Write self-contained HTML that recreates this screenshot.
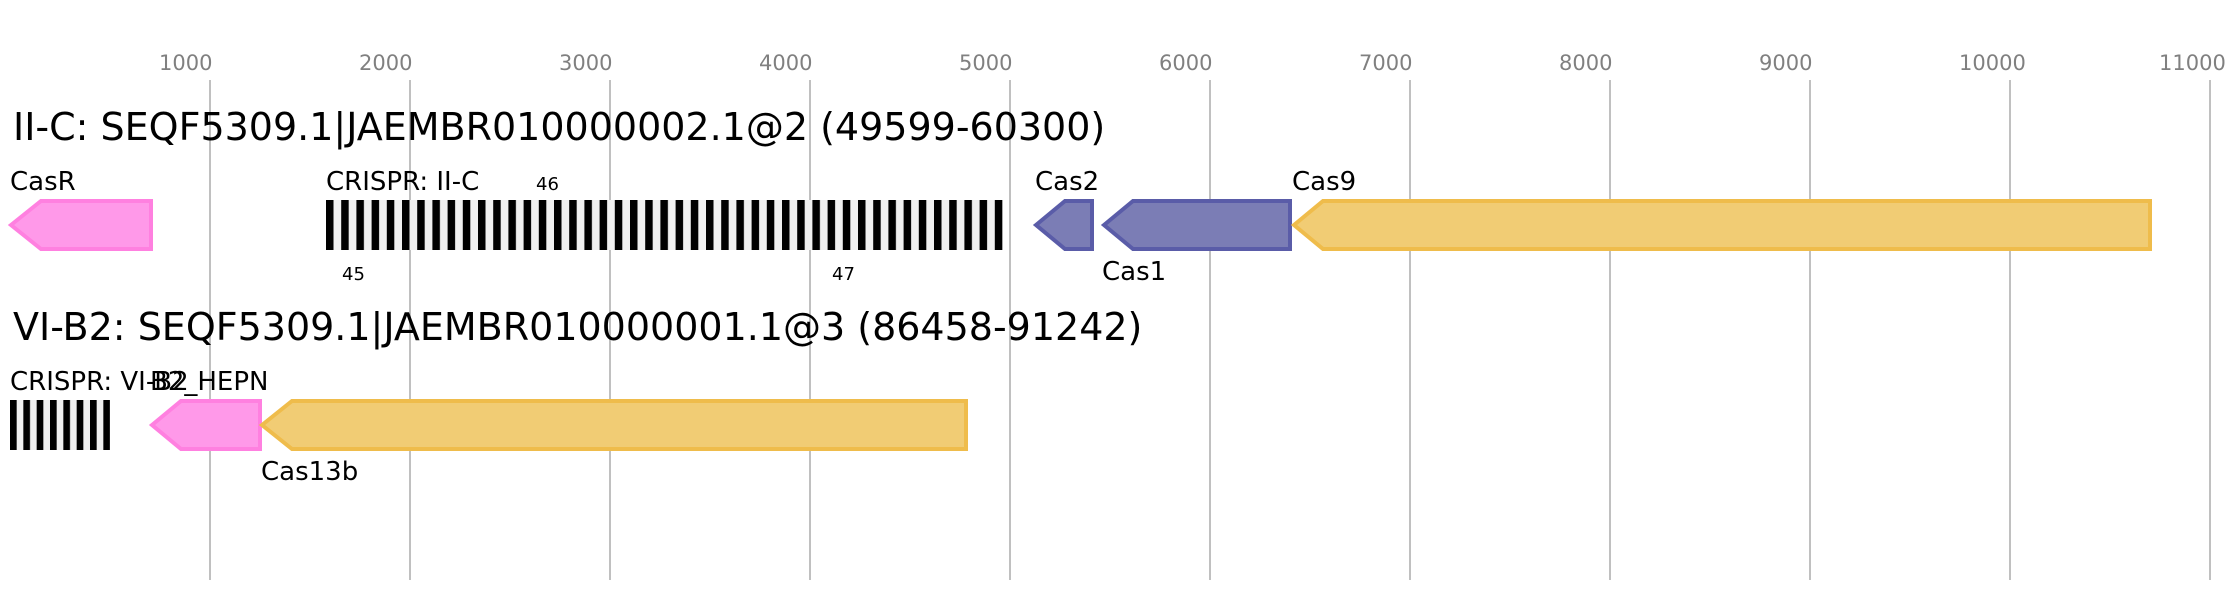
<!DOCTYPE html>
<html>
<head>
<meta charset="utf-8">
<style>
html,body{margin:0;padding:0;background:#ffffff;}
svg{display:block;}
text{font-family:"DejaVu Sans","Liberation Sans",sans-serif;}
</style>
</head>
<body>
<svg width="2240" height="600" viewBox="0 0 2240 600" xmlns="http://www.w3.org/2000/svg">
<defs>
<pattern id="crA" patternUnits="userSpaceOnUse" x="326" y="200" width="15.2" height="50">
<rect x="0" y="0" width="15.2" height="50" fill="#f0f0f0"/>
<rect x="0" y="0" width="7.5" height="50" fill="#000"/>
</pattern>
<pattern id="crB" patternUnits="userSpaceOnUse" x="10" y="400" width="13.333" height="50">
<rect x="0" y="0" width="13.333" height="50" fill="#f0f0f0"/>
<rect x="0" y="0" width="6.67" height="50" fill="#000"/>
</pattern>
</defs>
<rect x="0" y="0" width="2240" height="600" fill="#ffffff"/>
<g stroke="#c0c0c0" stroke-width="2">
<line x1="210" y1="80" x2="210" y2="580"/>
<line x1="410" y1="80" x2="410" y2="580"/>
<line x1="610" y1="80" x2="610" y2="580"/>
<line x1="810" y1="80" x2="810" y2="580"/>
<line x1="1010" y1="80" x2="1010" y2="580"/>
<line x1="1210" y1="80" x2="1210" y2="580"/>
<line x1="1410" y1="80" x2="1410" y2="580"/>
<line x1="1610" y1="80" x2="1610" y2="580"/>
<line x1="1810" y1="80" x2="1810" y2="580"/>
<line x1="2010" y1="80" x2="2010" y2="580"/>
<line x1="2210" y1="80" x2="2210" y2="580"/>
</g>
<g fill="#808080" font-size="21">
<text x="159" y="70">1000</text>
<text x="359" y="70">2000</text>
<text x="559" y="70">3000</text>
<text x="759" y="70">4000</text>
<text x="959" y="70">5000</text>
<text x="1159" y="70">6000</text>
<text x="1359" y="70">7000</text>
<text x="1559" y="70">8000</text>
<text x="1759" y="70">9000</text>
<text x="1959" y="70">10000</text>
<text x="2159" y="70">11000</text>
</g>
<text x="13" y="140" font-size="38" fill="#000">II-C: SEQF5309.1|JAEMBR010000002.1@2 (49599-60300)</text>
<text x="13" y="340" font-size="38" fill="#000">VI-B2: SEQF5309.1|JAEMBR010000001.1@3 (86458-91242)</text>
<polygon points="11,225 41,201 151,201 151,249 41,249" fill="#ff99e9" stroke="#ff80e0" stroke-width="4"/>
<text x="10" y="190" font-size="26">CasR</text>
<rect x="326" y="200" width="677" height="50" fill="url(#crA)"/>
<text x="326" y="190" font-size="26">CRISPR: II-C</text>
<text x="536" y="190" font-size="18">46</text>
<text x="342" y="280" font-size="18">45</text>
<text x="832" y="280" font-size="18">47</text>
<polygon points="1036,225 1065,201 1092,201 1092,249 1065,249" fill="#7b7db5" stroke="#5a5ca8" stroke-width="4"/>
<text x="1035" y="190" font-size="26">Cas2</text>
<polygon points="1104,225 1133,201 1290,201 1290,249 1133,249" fill="#7b7db5" stroke="#5a5ca8" stroke-width="4"/>
<text x="1102" y="280" font-size="26">Cas1</text>
<polygon points="1294,225 1323,201 2150,201 2150,249 1323,249" fill="#f1cc74" stroke="#efbc4b" stroke-width="4"/>
<text x="1292" y="190" font-size="26">Cas9</text>
<rect x="10" y="400" width="100" height="50" fill="url(#crB)"/>
<text x="10" y="390" font-size="26">CRISPR: VI-B2</text>
<polygon points="152,425 181,401 260,401 260,449 181,449" fill="#ff99e9" stroke="#ff80e0" stroke-width="4"/>
<text x="150" y="390" font-size="26">B2_HEPN</text>
<polygon points="262,425 292,401 966,401 966,449 292,449" fill="#f1cc74" stroke="#efbc4b" stroke-width="4"/>
<text x="261" y="480" font-size="26">Cas13b</text>
</svg>
</body>
</html>
